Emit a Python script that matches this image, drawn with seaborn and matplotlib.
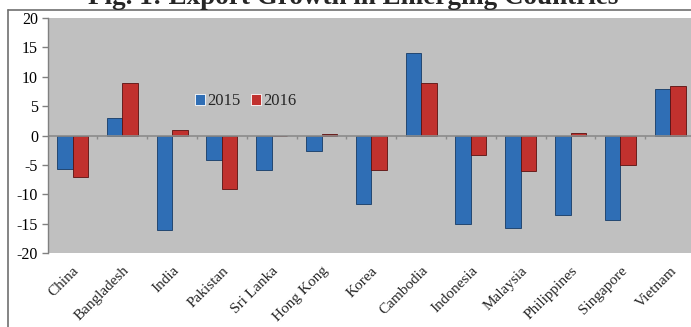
import matplotlib
matplotlib.use("Agg")
import matplotlib.pyplot as plt
import seaborn as sns
import pandas as pd
import numpy as np

countries = ["China", "Bangladesh", "India", "Pakistan", "Sri Lanka", "Hong Kong",
             "Korea", "Cambodia", "Indonesia", "Malaysia", "Philippines", "Singapore", "Vietnam"]
growth_2015 = [-5.7, 3.0, -16.1, -4.2, -5.9, -2.6, -11.7, 14.0, -15.1, -15.7, -13.6, -14.4, 7.9]
growth_2016 = [-7.1, 8.9, 1.0, -9.1, 0.0, 0.2, -5.9, 9.0, -3.3, -6.1, 0.5, -5.0, 8.4]
years = ["2015", "2016"]
yticks = [-20, -15, -10, -5, 0, 5, 10, 15, 20]
title = "Fig. 1: Export Growth in Emerging Countries"

df = pd.DataFrame({
    "Country": countries * 2,
    "Year": [years[0]] * len(countries) + [years[1]] * len(countries),
    "Growth": growth_2015 + growth_2016,
})

sns.set_theme(style="white")
plt.rcParams["font.family"] = ["Liberation Serif", "DejaVu Serif"]
plt.rcParams["axes.unicode_minus"] = False

W, H = 691, 327
fig = plt.figure(figsize=(W / 100, H / 100), dpi=100)
ax = fig.add_axes([47.6 / W, 1 - 253 / H, (695 - 47.6) / W, (253 - 18) / H])
ax.set_facecolor("#C0C0C0")

palette = {"2015": "#2F6EB5", "2016": "#C1312E"}
sns.barplot(data=df, x="Country", y="Growth", hue="Year", palette=palette,
            width=0.62, ax=ax, linewidth=0.6, saturation=1)
for cont, edge in zip(ax.containers, ["#163a66", "#5a1010"]):
    for p in cont.patches:
        p.set_edgecolor(edge)

ax.set_xlim(-0.5, len(countries) - 0.5)
ax.set_ylim(-20, 20)
ax.set_yticks(yticks)
ax.set_yticklabels([str(v) for v in yticks], fontsize=11.5, color="black")
ax.tick_params(axis="y", direction="out", length=4, width=1, color="#808080", pad=3, left=True)
ax.set_xlabel("")
ax.set_ylabel("")
ax.set_xticks(range(len(countries)))
ax.set_xticklabels(countries, rotation=45, ha="right", rotation_mode="anchor", fontsize=11)
ax.tick_params(axis="x", length=0, pad=8)

for s in ["top", "right", "bottom"]:
    ax.spines[s].set_visible(False)
ax.spines["left"].set_color("#808080")
ax.spines["left"].set_linewidth(1)

ax.axhline(0, color="#8a8a8a", lw=1.2, zorder=1)
ax.vlines(np.arange(-0.5, len(countries)), -0.55, 0, color="#8a8a8a", lw=1, zorder=1)

leg = ax.legend(loc="upper left", bbox_to_anchor=(0.215, 0.715), ncol=2, frameon=False,
                fontsize=12, handlelength=0.6, handleheight=0.6, handletextpad=0.15,
                columnspacing=0.6, borderpad=0)

# outer frame lines
fig.add_artist(plt.Line2D([8 / W, 1], [1 - 10 / H, 1 - 10 / H], color="#707070", lw=1.2,
                          transform=fig.transFigure))
fig.add_artist(plt.Line2D([8 / W, 8 / W], [0, 1 - 10 / H], color="#707070", lw=1.2,
                          transform=fig.transFigure))

fig.text(353 / W, 1 - 3.5 / H, title, ha="center", va="baseline", fontsize=19.5,
         fontweight="bold")

fig.savefig("out.png", dpi=100)
